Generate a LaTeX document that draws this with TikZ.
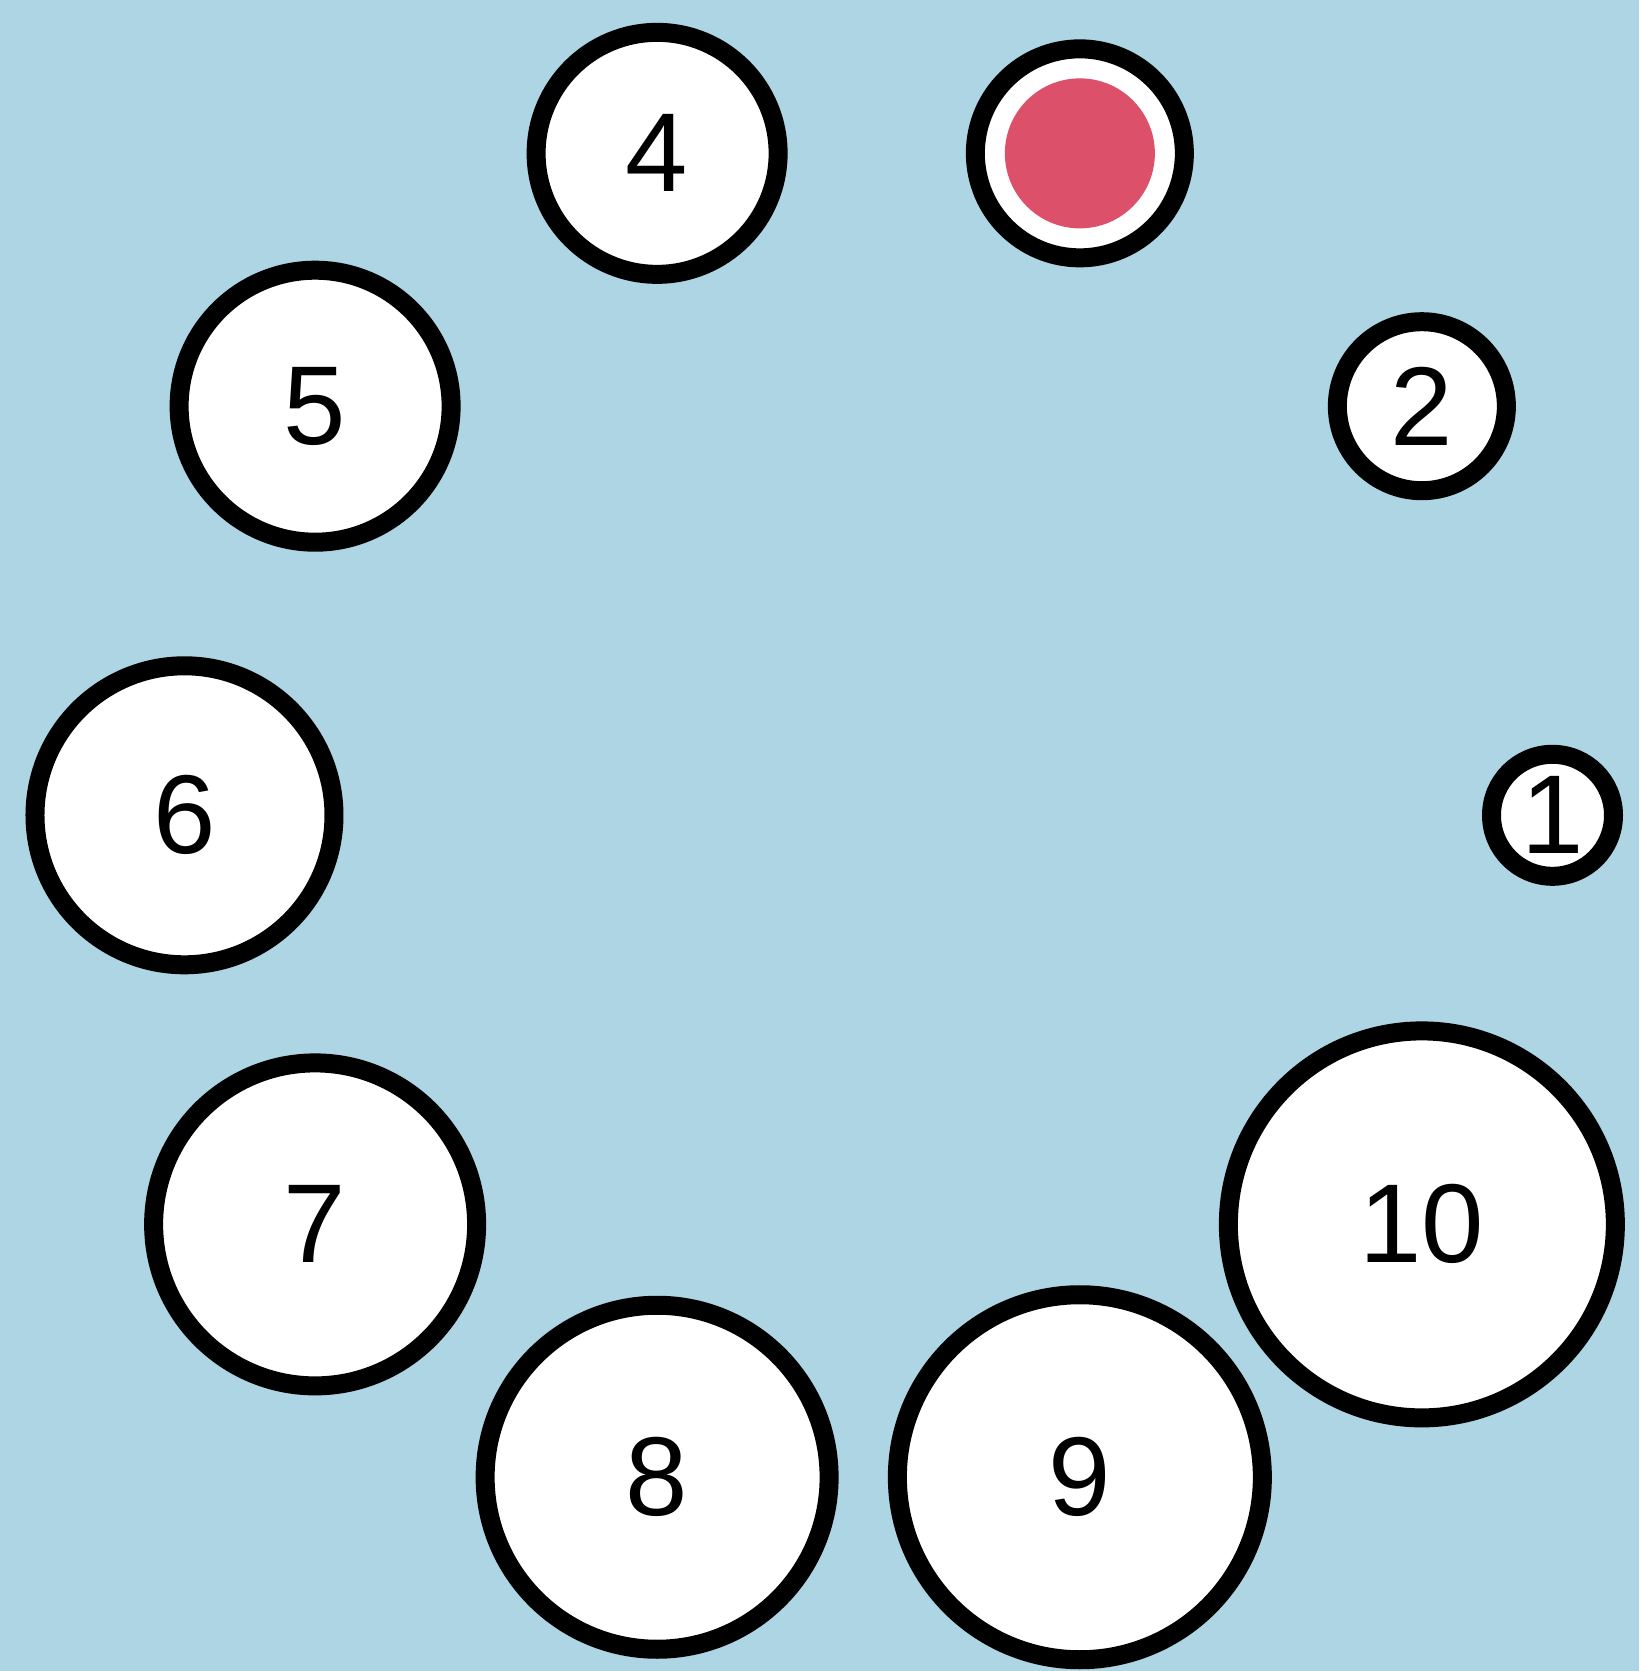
\documentclass[tikz,border=0pt]{standalone}
\usepackage{fontspec}
\setmainfont{Liberation Sans}
\definecolor{ringbg}{HTML}{ADD5E3}
\definecolor{marker}{HTML}{DC506A}

\begin{document}
\begin{tikzpicture}[x=1cm,y=1cm,
  seat/.style={circle,draw=black,line width=1.9mm,fill=white,inner sep=0pt,
    font=\fontsize{31.9}{38}\selectfont}]
\fill[ringbg] (-8.685,-8.557) rectangle (7.705,8.153);
\useasboundingbox (-8.685,-8.557) rectangle (7.705,8.153);
% seats round the ring, growing with the number
\foreach \k/\d in {1/12.2,2/16.9,4/24.2,5/27.2,6/29.9,7/32.3,8/34.4,9/36.5,10/38.7}
  \node[seat,minimum size=\d mm] (seat\k) at ({36*(\k-1)}:6.84 and 6.96) {\k};
\node[seat,minimum size=20.9mm] (seat3) at (72:6.84 and 6.96) {};
\fill[marker] (seat3.center) circle (0.75);
\end{tikzpicture}
\end{document}
